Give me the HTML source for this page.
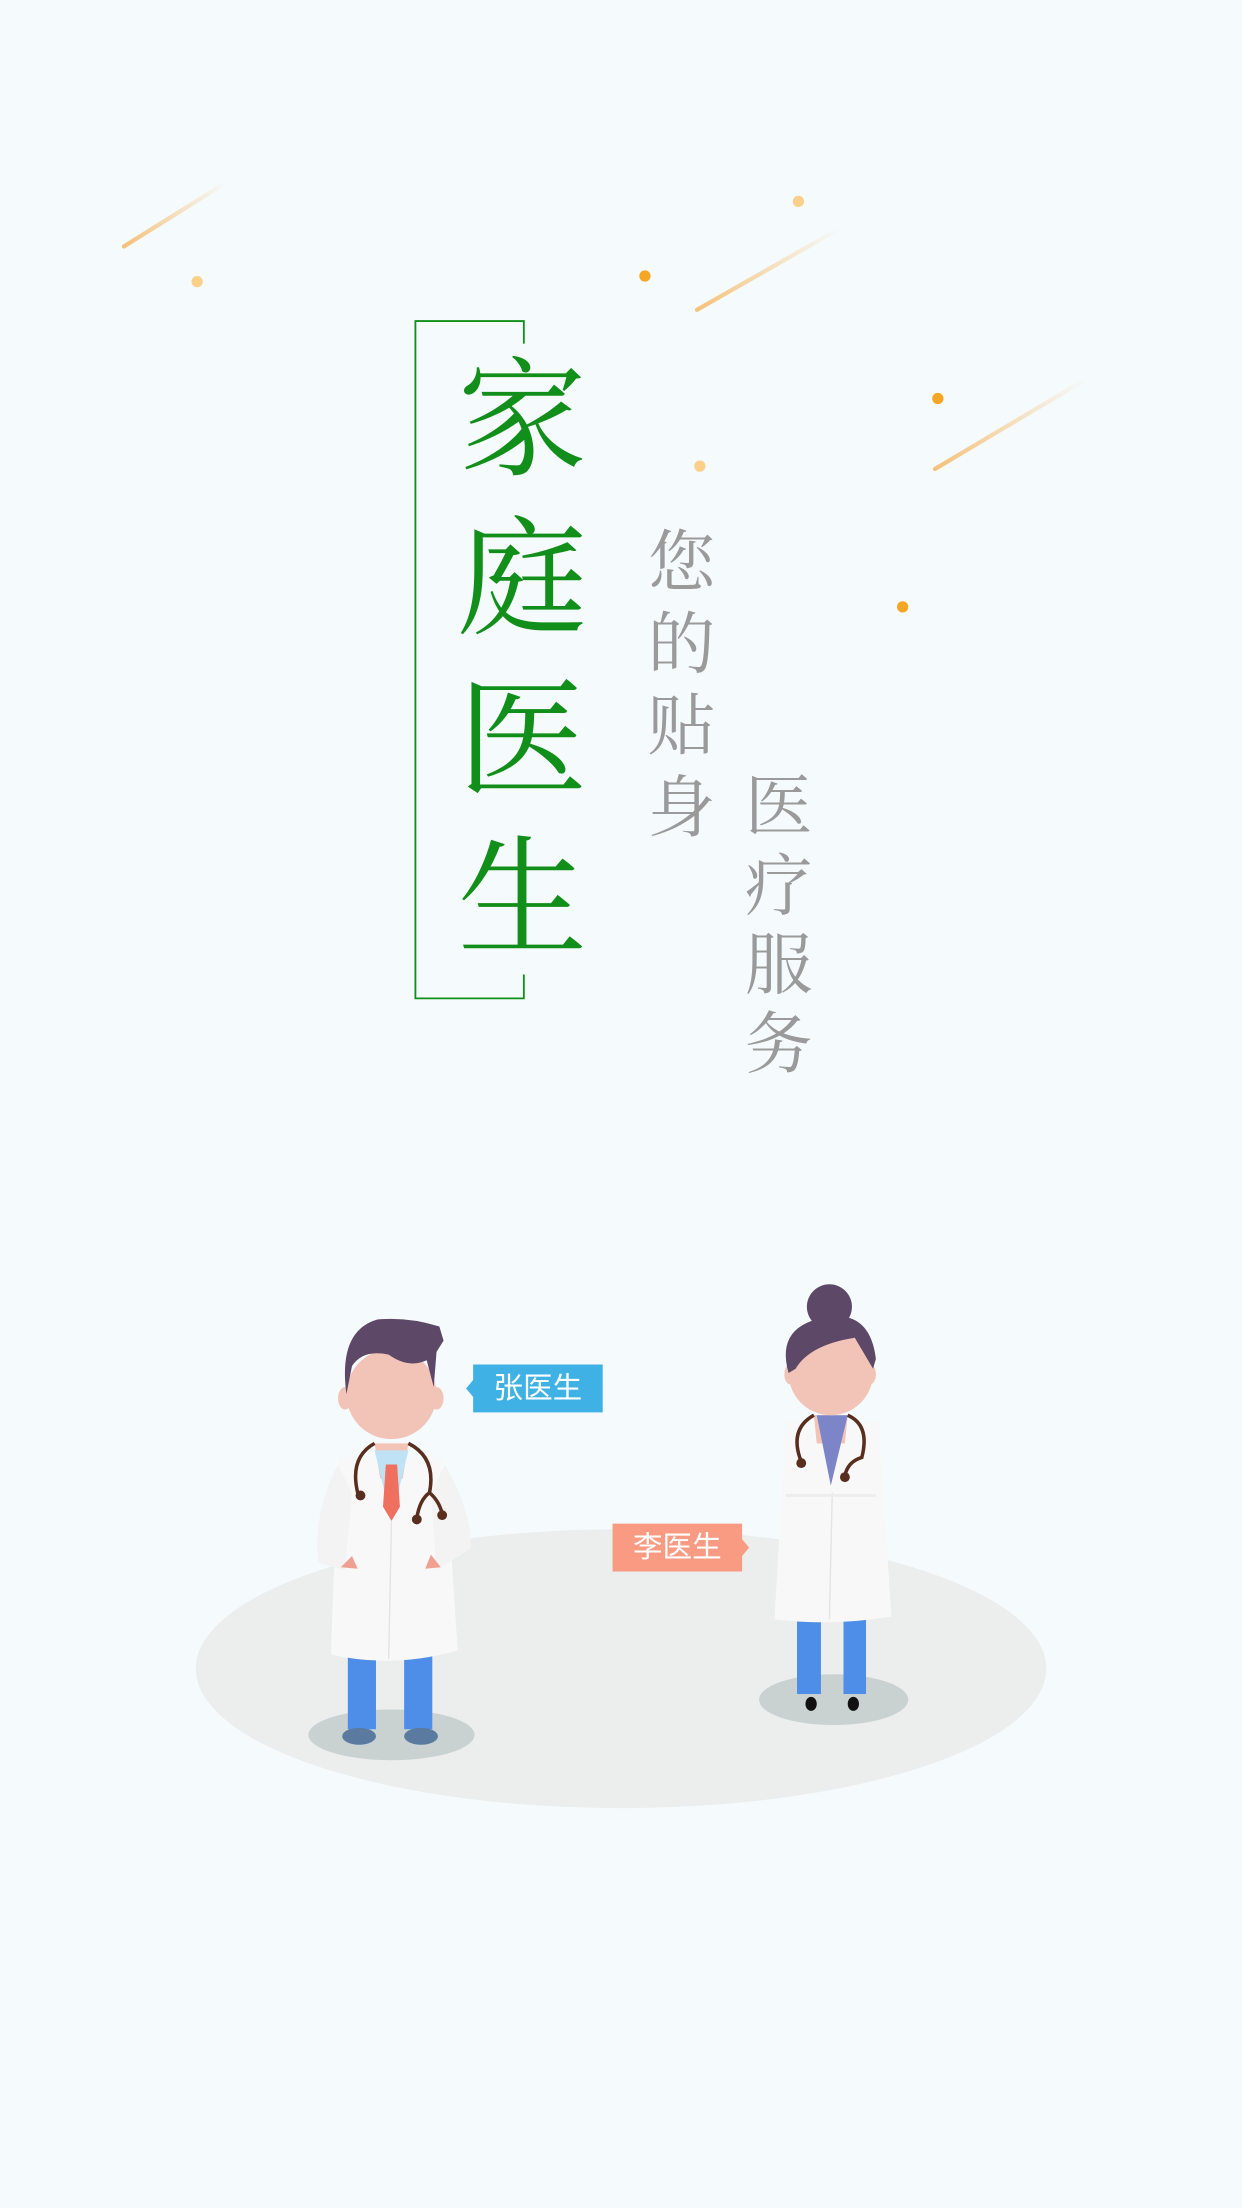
<!DOCTYPE html>
<html><head><meta charset="utf-8"><style>
html,body{margin:0;padding:0;background:#f5fafc;}
svg{display:block}
.g{font-family:"Liberation Serif","Noto Serif CJK SC",serif;fill:#118f1a;font-size:92px;text-anchor:middle;dominant-baseline:central}
.s{font-family:"Liberation Serif","Noto Serif CJK SC",serif;fill:#9a9a9a;font-size:48px;text-anchor:middle;dominant-baseline:central}
.l{font-family:"Liberation Sans","Noto Sans CJK SC",sans-serif;fill:#fff;font-size:21px;text-anchor:middle;dominant-baseline:central}
</style></head><body>
<svg width="1242" height="2208" viewBox="0 0 882 1568">
<defs>
<linearGradient id="st" x1="0" y1="1" x2="1" y2="0"><stop offset="0" stop-color="#f5c27a"/><stop offset="1" stop-color="#f5c27a" stop-opacity="0"/></linearGradient>
</defs>
<rect width="882" height="1568" fill="#f5fafc"/>
<g>
<line x1="88" y1="175" x2="160" y2="130" stroke="url(#st)" stroke-width="3" stroke-linecap="round"/>
<line x1="495" y1="220" x2="595" y2="163" stroke="url(#st)" stroke-width="3" stroke-linecap="round"/>
<line x1="664" y1="333" x2="770" y2="270" stroke="url(#st)" stroke-width="3" stroke-linecap="round"/>
<circle cx="140" cy="200" r="4" fill="#fcd08a"/>
<circle cx="458" cy="196" r="4" fill="#f5a623"/>
<circle cx="567" cy="143" r="4" fill="#fcd08a"/>
<circle cx="666" cy="283" r="4" fill="#f5a623"/>
<circle cx="497" cy="331" r="4" fill="#fcd08a"/>
<circle cx="641" cy="431" r="4" fill="#f5a623"/>
</g>
<g fill="none" stroke="#118f1a" stroke-width="1.3">
<polyline points="372,244 372,228 295,228 295,709 372,709 372,692"/>
</g>
<g>
<text class="g" x="371" y="300">家</text>
<text class="g" x="371" y="413">庭</text>
<text class="g" x="371" y="527">医</text>
<text class="g" x="371" y="640">生</text>
</g>
<g>
<text class="s" x="484" y="400">您</text>
<text class="s" x="484" y="458">的</text>
<text class="s" x="484" y="516">贴</text>
<text class="s" x="484" y="574">身</text>
<text class="s" x="553" y="573">医</text>
<text class="s" x="553" y="630">疗</text>
<text class="s" x="553" y="686">服</text>
<text class="s" x="553" y="742">务</text>
</g>
<ellipse cx="441" cy="1185" rx="302" ry="99" fill="#ebeeed"/>
<ellipse cx="278" cy="1232" rx="59" ry="18" fill="#c9d2d1"/>
<ellipse cx="592" cy="1207" rx="53" ry="18" fill="#c9d2d1"/>
<g>
<rect x="247" y="1170" width="20" height="58" fill="#4f8ee8"/>
<rect x="287" y="1170" width="20" height="58" fill="#4f8ee8"/>
<ellipse cx="255" cy="1233" rx="12" ry="6" fill="#5a7aa0"/>
<ellipse cx="299" cy="1233" rx="12" ry="6" fill="#5a7aa0"/>
<path d="M240 1035 L316 1035 L325 1172 Q280 1185 235 1175 Z" fill="#f8f8f8"/>
<path d="M240 1040 Q222 1075 226 1110 L245 1115 L250 1060 Z" fill="#f3f3f3"/>
<path d="M316 1040 Q336 1075 334 1100 L310 1115 L306 1060 Z" fill="#f3f3f3"/>
<path d="M266 1025 L290 1025 L286 1050 L270 1050 Z" fill="#f2c4b8"/>
<path d="M266 1030 L278 1080 L290 1030 Z" fill="#bfe2f5"/>
<path d="M274 1040 L282 1040 L284 1070 L278 1080 L272 1070 Z" fill="#f07060"/>
<line x1="278" y1="1080" x2="276" y2="1178" stroke="#e4e4e4" stroke-width="1"/>
<circle cx="278" cy="990" r="32" fill="#f2c4b8"/>
<ellipse cx="245" cy="993" rx="5" ry="8" fill="#f2c4b8"/>
<ellipse cx="310" cy="993" rx="5" ry="8" fill="#f2c4b8"/>
<path d="M246 990 Q240 945 268 937 Q290 935 312 942 L315 952 L310 960 L308 985 L303 966 Q290 972 276 962 Q258 958 250 970 Z" fill="#5d4868"/>
<path d="M266 1025 Q248 1035 254 1060 M290 1025 Q310 1035 305 1060 Q298 1065 296 1078 M305 1060 Q312 1066 314 1075" fill="none" stroke="#5a2e1e" stroke-width="2.5"/>
<circle cx="256" cy="1062" r="3.5" fill="#5a2e1e"/>
<circle cx="296" cy="1079" r="3.5" fill="#5a2e1e"/>
<circle cx="314" cy="1076" r="3.5" fill="#5a2e1e"/>
<path d="M242 1113 L250 1105 L254 1114 Z M302 1114 L306 1104 L313 1113 Z" fill="#f0a090"/>
</g>
<g>
<path d="M336 969 H428 V1003 H336 V992 L331 986 L336 980 Z" fill="#3fb1e5"/>
<text class="l" x="382" y="986">张医生</text>
</g>
<g>
<rect x="566" y="1145" width="17" height="58" fill="#4f8ee8"/>
<rect x="599" y="1145" width="16" height="58" fill="#4f8ee8"/>
<ellipse cx="576" cy="1210" rx="4" ry="5" fill="#111"/>
<ellipse cx="606" cy="1210" rx="4" ry="5" fill="#111"/>
<path d="M558 1010 L624 1010 L633 1148 Q592 1155 550 1150 Z" fill="#f8f8f8"/>
<path d="M578 1005 L602 1005 L600 1025 L580 1025 Z" fill="#f2c4b8"/>
<path d="M580 1005 L590 1055 L602 1005 Z" fill="#7c85c8"/>
<line x1="591" y1="1060" x2="589" y2="1150" stroke="#e4e4e4" stroke-width="1"/>
<path d="M558 1062 L622 1062" stroke="#ededed" stroke-width="2"/>
<circle cx="589" cy="928" r="16" fill="#5d4868"/>
<circle cx="590" cy="975" r="30" fill="#f2c4b8"/>
<ellipse cx="561" cy="976" rx="4" ry="7" fill="#f2c4b8"/>
<ellipse cx="618" cy="976" rx="4" ry="7" fill="#f2c4b8"/>
<path d="M560 975 Q550 940 590 935 Q618 932 622 965 L620 972 L607 950 Q575 955 565 972 Z" fill="#5d4868"/>
<path d="M578 1005 Q560 1015 569 1038 M602 1005 Q618 1012 612 1035 Q602 1038 600 1048" fill="none" stroke="#5a2e1e" stroke-width="2.5"/>
<circle cx="569" cy="1039" r="3.5" fill="#5a2e1e"/>
<circle cx="600" cy="1049" r="3.5" fill="#5a2e1e"/>
</g>
<g>
<path d="M435 1082 H527 V1093 L532 1099 L527 1105 V1116 H435 Z" fill="#f99b82"/>
<text class="l" x="481" y="1099">李医生</text>
</g>
</svg>
</body></html>
